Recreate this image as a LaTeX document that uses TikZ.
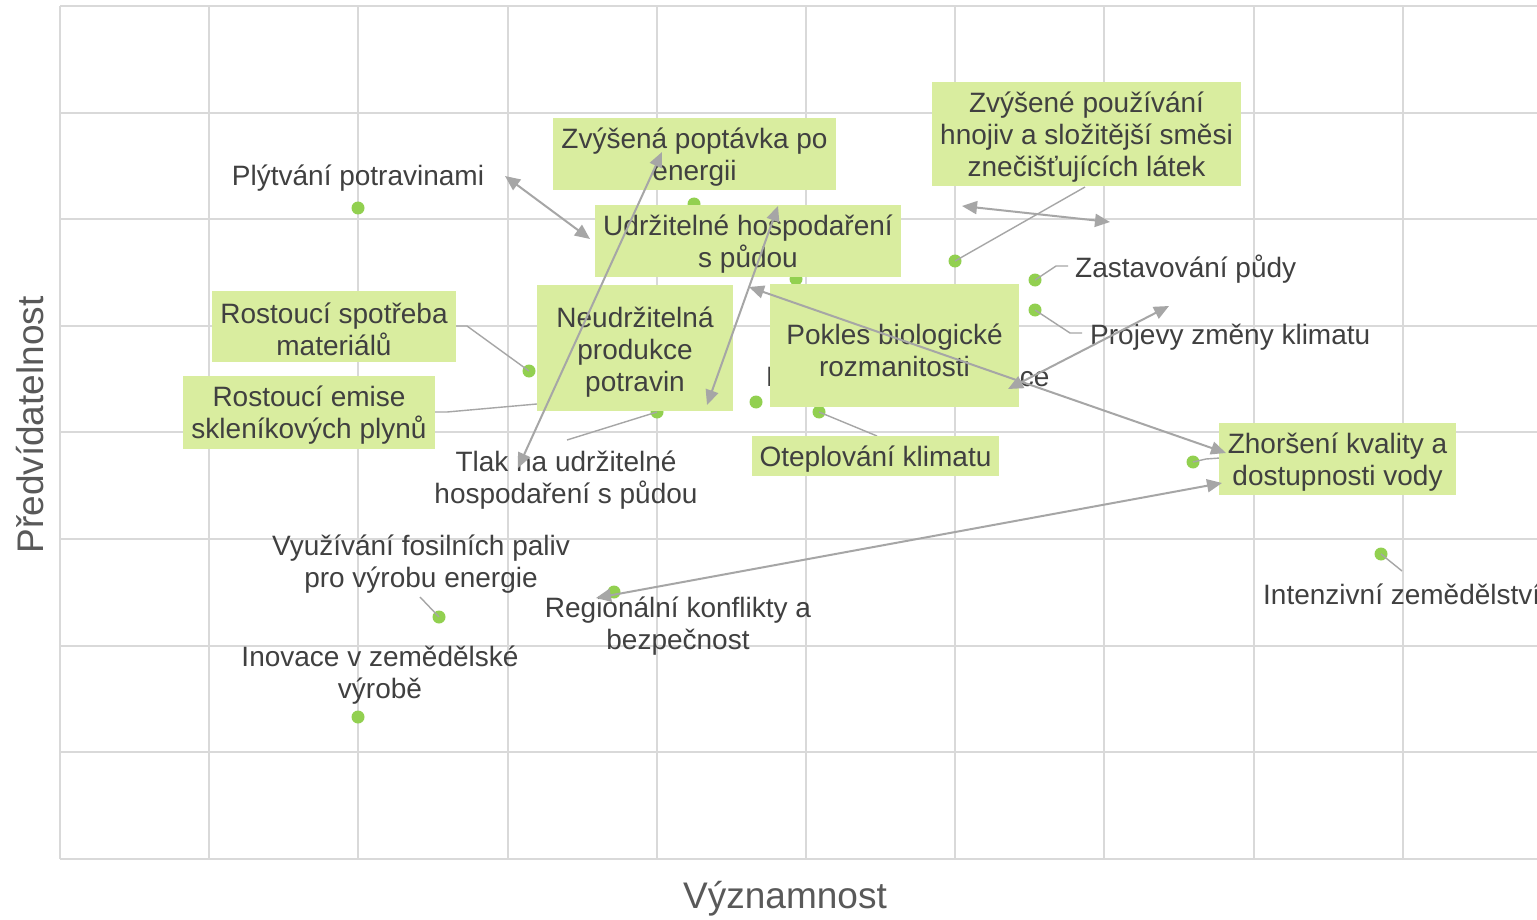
\documentclass[tikz,border=0pt]{standalone}
\usepackage{fontspec}
\setmainfont{Liberation Sans}
\usetikzlibrary{arrows.meta}
\definecolor{gridc}{RGB}{217,217,217}
\definecolor{boxc}{RGB}{217,237,159}
\definecolor{dotc}{RGB}{146,208,80}
\definecolor{txtc}{RGB}{64,64,64}
\definecolor{arrc}{RGB}{166,166,166}
\definecolor{axc}{RGB}{89,89,89}
\newcommand\lblfont{\fontsize{28}{32}\selectfont}
\newcommand\axfont{\fontsize{37}{42}\selectfont}
\tikzset{
  gridline/.style={draw=gridc, line width=2pt},
  stickbox/.style={fill=boxc, inner sep=0pt},
  lbl/.style={text=txtc, font=\lblfont, align=center, inner sep=0pt, yshift=-3pt},
  axtitle/.style={text=axc, font=\axfont, inner sep=0pt},
  dot/.style={circle, fill=dotc, inner sep=0pt, minimum size=13pt},
  leader/.style={draw=arrc, line width=1.4pt},
  conn/.style={draw=arrc, line width=2pt, {Triangle[length=15pt,width=13pt]}-{Triangle[length=15pt,width=13pt]}}
}
\begin{document}
\begin{tikzpicture}[x=1pt,y=-1pt]
\useasboundingbox (0,0) rectangle (1537,920);
\clip (0,0) rectangle (1537,920);
\fill[white] (0,0) rectangle (1537,920);
% grid
\foreach \i in {0,...,9} { \draw[gridline] ({60+149.2*\i},6) -- ({60+149.2*\i},859); }
\foreach \j in {0,...,8} { \draw[gridline] (60,{6+106.6*\j}) -- (1537,{6+106.6*\j}); }
% axis titles
\node[axtitle] (xt) at (785,899) {Významnost};
\node[axtitle, rotate=90] (yt) at (30,425) {Předvídatelnost};
% dots
\node[dot] (d1) at (358,208) {};
\node[dot] (d2) at (694,204) {};
\node[dot] (d3) at (796,279) {};
\node[dot] (d4) at (955,261) {};
\node[dot] (d5) at (1035,280) {};
\node[dot] (d6) at (1035,310) {};
\node[dot] (d7) at (529,371) {};
\node[dot] (d8) at (756,402) {};
\node[dot] (d9) at (657,412) {};
\node[dot] (d10) at (819,412) {};
\node[dot] (d11) at (1193,462) {};
\node[dot] (d12) at (1381,554) {};
\node[dot] (d13) at (439,617) {};
\node[dot] (d14) at (614,592) {};
\node[dot] (d15) at (358,717) {};
\coordinate (d16) at (575,401);
% plain labels
\node[lbl] (l1) at (358,175) {Plýtvání potravinami};
\node[lbl, anchor=west] (l5) at (1075,266) {Zastavování půdy};
\node[lbl, anchor=west] (l6) at (1090,334) {Projevy změny klimatu};
\node[lbl, anchor=west] (l8) at (766,376) {Pokračující urbanizace};
\node[lbl] (l9) at (566,477) {Tlak na udržitelné\\hospodaření s půdou};
\node[lbl, anchor=west] (l12) at (1263,591) {Intenzivní zemědělství};
\node[lbl] (l13) at (421,561) {Využívání fosilních paliv\\pro výrobu energie};
\node[lbl] (l14) at (678,623) {Regionální konflikty a\\bezpečnost};
\node[lbl] (l15) at (380,672) {Inovace v zemědělské\\výrobě};
% leaders
\draw[leader] (d9.center) -- (567,440);
\draw[leader] (d10.center) -- (877,436);
\draw[leader] (d4.center) -- (1085,187);
\draw[leader] (d5.center) -- (1056,266) -- (1068,266);
\draw[leader] (d6.center) -- (1070,333) -- (1082,333);
\draw[leader] (d11.center) -- (1206,459) -- (1220,458);
\draw[leader] (d12.center) -- (1402,571);
\draw[leader] (d13.center) -- (420,597);
\draw[leader] (d7.center) -- (467,326) -- (456,326);
\draw[leader] (d16) -- (537,404) -- (447,412) -- (435,412);
% boxes
\node[stickbox, minimum width=283pt, minimum height=72pt] (b2) at (694.5,154) {};
\node[lbl] (b2t) at (b2) {Zvýšená poptávka po\\energii};
\node[stickbox, minimum width=306pt, minimum height=72pt] (b3) at (748,241) {};
\node[lbl] (b3t) at (b3) {Udržitelné hospodaření\\s půdou};
\node[stickbox, minimum width=309pt, minimum height=104pt] (b4) at (1086.5,134) {};
\node[lbl] (b4t) at (b4) {Zvýšené používání\\hnojiv a složitější směsi\\znečišťujících látek};
\node[stickbox, minimum width=244pt, minimum height=71pt] (b7) at (334,326.5) {};
\node[lbl] (b7t) at (b7) {Rostoucí spotřeba\\materiálů};
\node[stickbox, minimum width=252pt, minimum height=73pt] (b16) at (309,412.5) {};
\node[lbl] (b16t) at (b16) {Rostoucí emise\\skleníkových plynů};
\node[stickbox, minimum width=196pt, minimum height=126pt] (b17) at (635,348) {};
\node[lbl] (b17t) at (635,349) {Neudržitelná\\produkce\\potravin};
\node[stickbox, minimum width=249pt, minimum height=123pt] (b18) at (894.5,345.5) {};
\node[lbl] (b18t) at (894.5,347) {Pokles biologické\\rozmanitosti};
\node[stickbox, minimum width=247pt, minimum height=40pt] (b10) at (875.5,456) {};
\node[lbl] (b10t) at (b10) {Oteplování klimatu};
\node[stickbox, minimum width=237pt, minimum height=72pt] (b11) at (1337.5,459) {};
\node[lbl] (b11t) at (b11) {Zhoršení kvality a\\dostupnosti vody};
% connectors
\coordinate (a1s) at (505,176); \coordinate (a1e) at (590,239);
\coordinate (a2s) at (518,468); \coordinate (a2e) at (662,152);
\coordinate (a3s) at (707,405); \coordinate (a3e) at (778,206);
\coordinate (a4s) at (749,287); \coordinate (a4e) at (1226,453);
\coordinate (a5s) at (1008,389); \coordinate (a5e) at (1169,306);
\coordinate (a6s) at (962,206); \coordinate (a6e) at (1110,222);
\coordinate (a7s) at (596,598); \coordinate (a7e) at (1222,483);
\draw[conn] (a1s) -- (a1e);
\draw[conn] (a2s) -- (a2e);
\draw[conn] (a3s) -- (a3e);
\draw[conn] (a4s) -- (a4e);
\draw[conn] (a5s) -- (a5e);
\draw[conn] (a6s) -- (a6e);
\draw[conn] (a7s) -- (a7e);
\end{tikzpicture}
\end{document}
